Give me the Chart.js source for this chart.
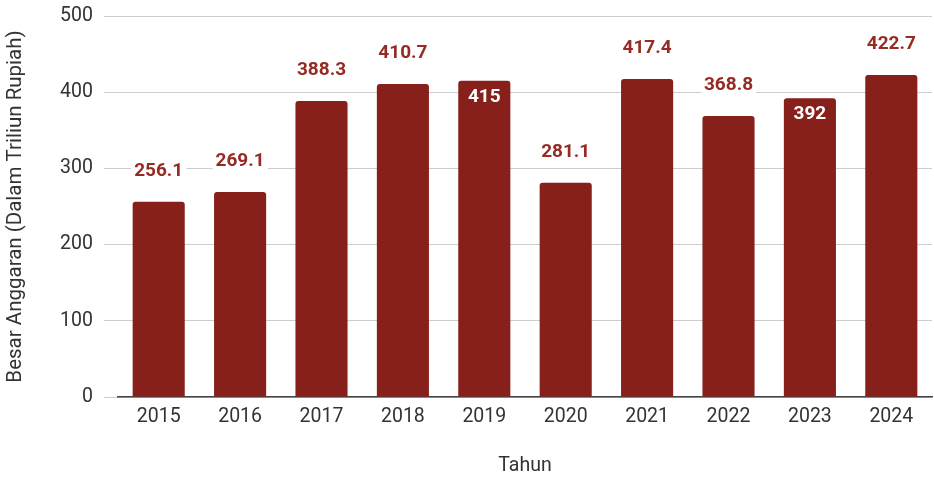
<!DOCTYPE html>
<html>
<head>
<meta charset="utf-8">
<script src="https://cdn.jsdelivr.net/npm/chart.js@4.4.1/dist/chart.umd.min.js"></script>
<style>
  html, body { margin: 0; padding: 0; background: #fff; }
  #wrap { width: 934px; height: 478px; }
</style>
</head>
<body>
<div id="wrap"><canvas id="chart"></canvas></div>
<script>
// Data
const years = ['2015', '2016', '2017', '2018', '2019', '2020', '2021', '2022', '2023', '2024'];
const budget = [256.1, 269.1, 388.3, 410.7, 415, 281.1, 417.4, 368.8, 392, 422.7];
// labels drawn inside the bar instead of above it
const labelInside = [false, false, false, false, true, false, false, false, true, false];
const yTicks = [0, 100, 200, 300, 400, 500];

const barColor = '#871f1a';
const labelColor = '#962b24';

// Value labels: above the bar, or inside in white
const valueLabels = {
    id: 'valueLabels',
    afterDatasetsDraw(chart) {
        const ctx = chart.ctx;
        const meta = chart.getDatasetMeta(0);
        ctx.save();
        ctx.font = 'bold 19px Roboto';
        ctx.textAlign = 'center';
        ctx.textBaseline = 'middle';
        meta.data.forEach((bar, i) => {
            const text = String(budget[i]);
            if (labelInside[i]) {
                ctx.fillStyle = '#ffffff';
                ctx.fillText(text, bar.x, bar.y + 16);
            } else {
                const y = bar.y - 31;
                const w = ctx.measureText(text).width;
                ctx.fillStyle = '#ffffff';
                ctx.fillRect(bar.x - w / 2 - 3, y - 12, w + 6, 24);
                ctx.fillStyle = labelColor;
                ctx.fillText(text, bar.x, y);
            }
        });
        ctx.restore();
    }
};

new Chart(document.getElementById('chart'), {
    type: 'bar',
    data: {
        labels: years,
        datasets: [{
            data: budget,
            backgroundColor: barColor,
            borderRadius: 3,
            borderSkipped: 'bottom',
            barPercentage: 0.64,
            categoryPercentage: 1
        }]
    },
    options: {
        responsive: true,
        maintainAspectRatio: false,
        animation: false,
        layout: { padding: { top: 16, right: 2, left: 0, bottom: 0 } },
        plugins: {
            legend: { display: false },
            tooltip: { enabled: false }
        },
        scales: {
            x: {
                grid: { display: false, drawTicks: false },
                border: { color: '#444', width: 1.5 },
                ticks: { color: '#333', font: { family: 'Roboto', size: 19.5 }, padding: 8 },
                title: {
                    display: true,
                    text: 'Tahun',
                    color: '#333',
                    font: { family: 'Roboto', size: 19.5 },
                    padding: { top: 24, bottom: 0 }
                },
                afterFit(scale) { scale.height = 81; }
            },
            y: {
                min: 0,
                max: 500,
                afterBuildTicks(scale) { scale.ticks = yTicks.map(v => ({ value: v })); },
                grid: { color: '#cccccc', lineWidth: 1, tickLength: 14 },
                border: { display: false },
                ticks: { color: '#333', font: { family: 'Roboto', size: 19.5 }, padding: 11 },
                title: {
                    display: true,
                    text: 'Besar Anggaran (Dalam Triliun Rupiah)',
                    color: '#333',
                    font: { family: 'Roboto', size: 20.5 },
                    padding: { top: 4, bottom: 0 }
                },
                afterFit(scale) {
                    scale.width = 118;
                    scale.paddingTop = 0;
                    scale.paddingBottom = 0;
                }
            }
        }
    },
    plugins: [valueLabels]
});
</script>
</body>
</html>
